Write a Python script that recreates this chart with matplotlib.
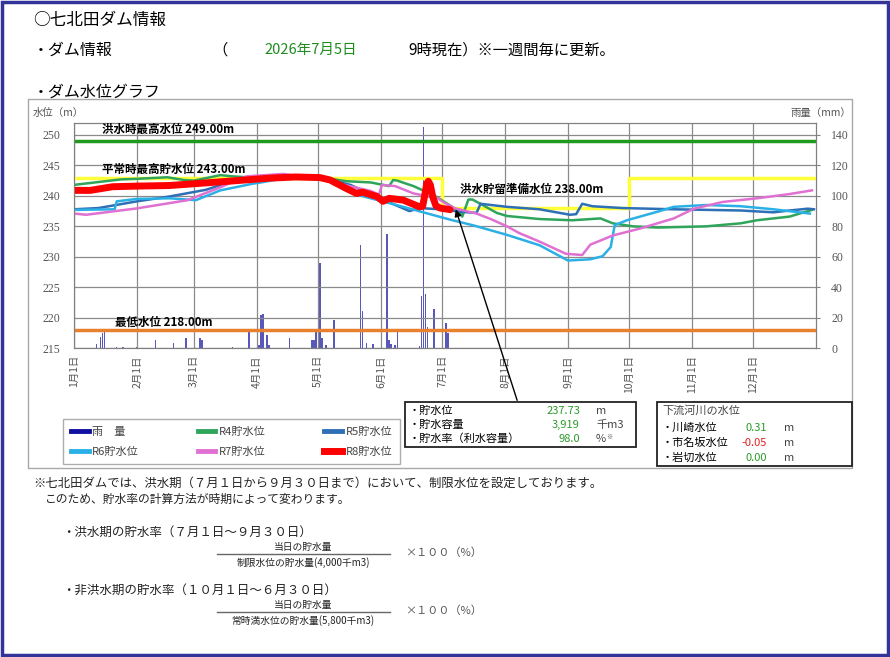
import matplotlib
matplotlib.use("Agg")

import matplotlib.pyplot as plt
from matplotlib.lines import Line2D
from matplotlib.patches import Rectangle

plt.rcParams['font.family'] = ['Noto Sans CJK JP', 'DejaVu Sans']

W, H = 890, 657

# ---- data ----
month_days = [0, 31, 59, 90, 120, 151, 181, 212, 243, 273, 304, 334]
month_labels = ["1月1日", "2月1日", "3月1日", "4月1日", "5月1日", "6月1日",
                "7月1日", "8月1日", "9月1日", "10月1日", "11月1日", "12月1日"]

flood_max_level = 249.0
normal_max_level = 243.0
min_level = 218.0
limit_days = [0, 181, 273, 364]
limit_levels = [243.0, 238.0, 243.0, 243.0]

r4_days = [0, 23, 31, 46, 54, 59, 72, 78, 88, 122, 134, 146, 152, 155, 157, 159,
           167, 177, 186, 190, 191, 194, 196, 201, 208, 213, 229, 245, 259, 265,
           275, 287, 311, 328, 336, 352, 363]
r4_level = [241.8, 242.7, 242.8, 243.05, 242.6, 242.5, 243.4, 243.2, 243.0, 243.0,
            242.4, 242.2, 241.8, 241.6, 242.6, 242.5, 241.6, 240.1, 238.2, 237.2,
            236.6, 239.4, 239.4, 238.5, 237.2, 236.7, 236.2, 236.0, 236.3, 235.5,
            235.0, 234.8, 235.0, 235.5, 236.0, 236.6, 237.7]

r5_days = [0, 12, 31, 47, 65, 75, 88, 101, 121, 136, 146, 156, 165, 170, 180,
           190, 198, 200, 213, 229, 244, 247, 250, 255, 270, 295, 328, 344, 352,
           361, 364]
r5_level = [237.8, 238.0, 239.1, 239.9, 241.0, 242.1, 242.8, 243.0, 243.0, 241.8,
            240.2, 238.8, 237.5, 238.0, 237.8, 237.4, 237.2, 238.7, 238.2, 237.8,
            236.9, 237.0, 238.7, 238.3, 238.0, 237.8, 237.6, 237.3, 237.6, 237.9,
            237.8]

r6_days = [0, 20, 21, 31, 47, 60, 72, 88, 92, 100, 111, 126, 139, 146, 162, 185,
           196, 213, 229, 243, 254, 260, 264, 266, 272, 287, 295, 311, 328, 344, 362]
r6_level = [237.7, 237.8, 239.1, 239.5, 239.6, 239.3, 240.9, 242.0, 242.2, 242.7,
            243.0, 242.5, 240.2, 239.6, 238.2, 236.1, 235.2, 233.6, 231.9, 229.4,
            229.6, 230.1, 231.6, 235.2, 236.0, 237.4, 238.2, 238.5, 238.3, 237.8,
            237.1]

r7_days = [0, 6, 31, 56, 62, 72, 80, 85, 103, 113, 121, 133, 146, 150, 151.5,
           158, 167, 179, 182, 187, 193, 198, 205, 213, 219, 229, 242, 250, 254,
           265, 278, 295, 305, 319, 336, 352, 363]
r7_level = [237.1, 236.9, 237.95, 239.3, 240.1, 241.4, 242.6, 243.2, 243.6, 243.1,
            242.9, 241.8, 240.8, 240.2, 241.8, 241.6, 240.4, 239.6, 238.9, 238.0,
            237.5, 237.1, 236.2, 235.0, 233.9, 232.5, 230.5, 230.3, 232.0, 233.5,
            234.6, 236.3, 237.9, 239.0, 239.6, 240.3, 240.9]

r8_days = [0, 8, 19, 31, 47, 72, 96, 109, 121, 126, 134, 139, 142, 149, 152, 155,
           162, 170, 171.5, 172.5, 173.5, 174.3, 175.3, 176.5, 178, 180, 184, 185]
r8_level = [240.9, 240.9, 241.5, 241.6, 241.7, 242.3, 242.9, 243.1, 243.0, 242.6,
            241.2, 240.4, 240.6, 239.9, 239.1, 239.6, 239.3, 238.2, 238.3, 240.0,
            242.0, 242.4, 241.8, 239.8, 238.4, 238.0, 237.8, 237.73]

rain_days = [11, 13, 14, 15, 21, 24, 31, 40, 49, 55, 62, 63, 78, 86, 91, 92, 93,
             95, 96, 106, 117, 118, 119, 121, 122, 124, 128, 141, 142, 144, 147,
             154, 155, 156, 158, 159, 170, 171, 172, 173, 174, 177, 183, 184]
rain_mm = [2.6, 7.6, 9.9, 10.5, 1, 1, 1, 5.5, 3.7, 6.6, 6.6, 5.5, 1, 10.5, 2,
           21.9, 22.5, 8.7, 2, 6.6, 5.5, 5.5, 10.5, 55.9, 6.6, 2, 18.6, 67.5, 24.7,
           3.7, 3, 74.9, 5.5, 3, 2, 12.5, 1.5, 34.6, 145, 35.7, 14.2, 25.6, 16.4, 9.9]

info_labels = ["・貯水位", "・貯水容量", "・貯水率（利水容量）"]
info_values = ["237.73", "3,919", "98.0"]
info_units = ["m", "千m3", "%"]

river_labels = ["・川崎水位", "・市名坂水位", "・岩切水位"]
river_values = ["0.31", "-0.05", "0.00"]
river_colors = ["#2a9a2a", "#e02020", "#2a9a2a"]


def fx(px):
    return px / W


def fy(py):
    return 1 - py / H


fig = plt.figure(figsize=(W / 100, H / 100), dpi=100)

# page frame and chart panel
fig.add_artist(Rectangle((0.002, 0.003), 0.996, 0.994, transform=fig.transFigure,
                         fill=False, edgecolor="#33339a", lw=2.5))
fig.add_artist(Rectangle((fx(28), fy(468)), (852 - 28) / W, (468 - 99) / H,
                         transform=fig.transFigure, fill=False,
                         edgecolor="#a8a8a8", lw=1))

# header texts
fig.text(fx(33), fy(20), "○七北田ダム情報", fontsize=12, va="center")
fig.text(fx(33), fy(50), "・ダム情報", fontsize=11.5, va="center")
fig.text(fx(212), fy(50), "（", fontsize=11, va="center")
fig.text(fx(264), fy(50), "2026年7月5日", fontsize=10.5, va="center", color="#1e8c1e")
fig.text(fx(408), fy(50), "9時現在）※一週間毎に更新。", fontsize=11, va="center")
fig.text(fx(33), fy(92), "・ダム水位グラフ", fontsize=11.5, va="center")

# ---- chart ----
ax = fig.add_axes([fx(74), fy(348.3), 742 / W, 225.6 / H])
ax2 = ax.twinx()
ax.set_zorder(ax2.get_zorder() + 1)
ax.patch.set_visible(False)

ax2.bar(rain_days, rain_mm, width=0.7, color="#3b3bb0", alpha=0.85)
ax2.set_ylim(0, 148)
ax2.set_yticks(range(0, 141, 20))

ax.set_xlim(0, 365)
ax.set_ylim(215, 252)
ax.set_yticks(range(215, 251, 5))
ax.set_xticks(month_days)
ax.set_xticklabels(month_labels, rotation=90, fontsize=7.5, color="#555555")
ax.grid(True, color="#8a8a8a", lw=0.9)
ax.set_axisbelow(True)

ax.plot([0, 364], [flood_max_level] * 2, color="#1f9a1f", lw=2.5)
ax.plot(limit_days, limit_levels, color="#ffff3a", lw=2.5, drawstyle="steps-post")
ax.plot([0, 364], [min_level] * 2, color="#e8812e", lw=2.5)

ax.plot(r4_days, r4_level, color="#2ea55a", lw=1.8)
ax.plot(r5_days, r5_level, color="#2e6fb5", lw=1.8)
ax.plot(r6_days, r6_level, color="#2bb0e6", lw=1.8)
ax.plot(r7_days, r7_level, color="#e070d2", lw=1.8)
ax.plot(r8_days, r8_level, color="#ff0000", lw=5, solid_capstyle="round")

ax.text(14, 250.9, "洪水時最高水位 249.00m", fontsize=8.3, fontweight="bold", va="center")
ax.text(14, 244.4, "平常時最高貯水位 243.00m", fontsize=8.3, fontweight="bold", va="center")
ax.text(20, 219.2, "最低水位 218.00m", fontsize=8.3, fontweight="bold", va="center")
ax.text(190, 241.1, "洪水貯留準備水位 238.00m", fontsize=8.3, fontweight="bold", va="center")

for a in (ax, ax2):
    for s in a.spines.values():
        s.set_color("#808080")
ax.tick_params(axis="x", length=0, pad=5)
ax.tick_params(axis="y", length=0, pad=10, labelsize=8.5, labelcolor="#555555")
ax2.tick_params(axis="y", length=3, color="#808080", pad=8, labelsize=8.5,
                labelcolor="#555555")
for lab in ax.get_yticklabels() + ax2.get_yticklabels():
    lab.set_family("Liberation Serif")

fig.text(fx(33), fy(113), "水位（m）", fontsize=7.5, color="#555555", va="center")
fig.text(fx(851), fy(113), "雨量（mm）", fontsize=7.5, color="#555555", va="center",
         ha="right")

# arrow to the info box
ax.annotate("", xy=(187.4, 238.2), xycoords="data",
            xytext=(fx(518), fy(403)), textcoords="figure fraction",
            arrowprops=dict(arrowstyle="-|>", color="black", lw=1, mutation_scale=10))

# ---- legend ----
handles = [
    Line2D([], [], color="#1010a0", lw=3.5),
    Line2D([], [], color="#2bb0e6", lw=3.5),
    Line2D([], [], color="#2ea55a", lw=3.5),
    Line2D([], [], color="#e070d2", lw=3.5),
    Line2D([], [], color="#2e6fb5", lw=3.5),
    Line2D([], [], color="#ff0000", lw=5),
]
labels = ["雨　量", "R6貯水位", "R4貯水位", "R7貯水位", "R5貯水位", "R8貯水位"]
leg = fig.legend(handles, labels, ncol=3, loc="center", mode="expand",
                 bbox_to_anchor=(fx(63), fy(466), 337 / W, 49 / H),
                 frameon=True, fancybox=False, edgecolor="#999999", fontsize=8,
                 handlelength=1.6, handletextpad=0.3, labelspacing=0.9,
                 borderpad=0.7, borderaxespad=0)
leg.get_frame().set_linewidth(1)
for t in leg.get_texts():
    t.set_color("#444444")

# ---- info box ----
fig.add_artist(Rectangle((fx(405), fy(447)), (636 - 405) / W, (447 - 402) / H,
                         transform=fig.transFigure, fill=False,
                         edgecolor="#222222", lw=1.3))
for i, (lab, val, unit) in enumerate(zip(info_labels, info_values, info_units)):
    y = 411 + 14 * i
    fig.text(fx(409), fy(y), lab, fontsize=8, va="center")
    fig.text(fx(580), fy(y), val, fontsize=8, va="center", ha="right", color="#2a9a2a")
    fig.text(fx(596), fy(y), unit, fontsize=8, va="center", color="#444444")
fig.text(fx(606), fy(437), "※", fontsize=4.5, va="center", color="#444444")

fig.add_artist(Rectangle((fx(657), fy(466)), (852 - 657) / W, (466 - 402) / H,
                         transform=fig.transFigure, fill=False,
                         edgecolor="#222222", lw=1.3))
fig.text(fx(662), fy(411), "下流河川の水位", fontsize=8, va="center", color="#444444")
for i, (lab, val, col) in enumerate(zip(river_labels, river_values, river_colors)):
    y = 428 + 15 * i
    fig.text(fx(662), fy(y), lab, fontsize=8, va="center")
    fig.text(fx(767), fy(y), val, fontsize=8, va="center", ha="right", color=col)
    fig.text(fx(784), fy(y), "m", fontsize=8, va="center", color="#444444")

# ---- notes ----
fig.text(fx(33), fy(483), "※七北田ダムでは、洪水期（７月１日から９月３０日まで）において、制限水位を設定しております。",
         fontsize=8.9, va="center", color="#222222")
fig.text(fx(45), fy(499), "このため、貯水率の計算方法が時期によって変わります。",
         fontsize=8.5, va="center", color="#222222")

notes = [("・洪水期の貯水率（７月１日～９月３０日）", "制限水位の貯水量(4,000千m3)", 532),
         ("・非洪水期の貯水率（１０月１日～６月３０日）", "常時満水位の貯水量(5,800千m3)", 590)]
for head, denom, y0 in notes:
    fig.text(fx(62), fy(y0), head, fontsize=9, va="center", color="#222222")
    fig.text(fx(303), fy(y0 + 15), "当日の貯水量", fontsize=7, va="center",
             ha="center", color="#222222")
    fig.add_artist(Line2D([fx(217), fx(390)], [fy(y0 + 22), fy(y0 + 22)],
                          transform=fig.transFigure, color="#666666", lw=1))
    fig.text(fx(303), fy(y0 + 31), denom, fontsize=7, va="center",
             ha="center", color="#222222")
    fig.text(fx(405), fy(y0 + 21), "×１００（%）", fontsize=8, va="center",
             color="#555555")

fig.savefig("out.png", dpi=100)
